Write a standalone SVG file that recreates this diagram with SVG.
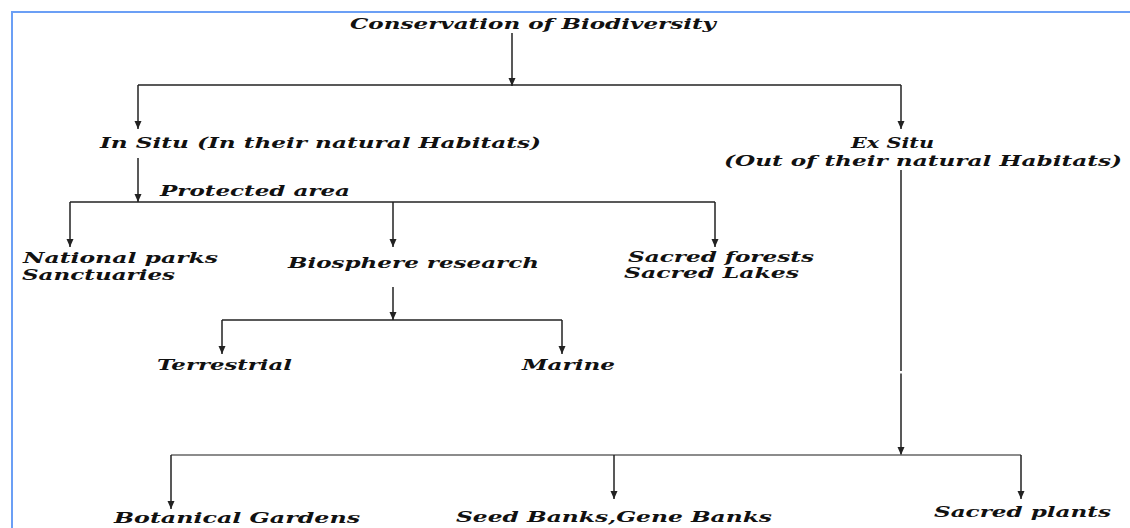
<svg xmlns="http://www.w3.org/2000/svg" width="1130" height="528" viewBox="0 0 1130 528">
<style>
text{font-family:"DejaVu Serif","Liberation Serif",serif;font-style:italic;font-weight:bold;font-size:15px;fill:#111;}
.c{fill:none;stroke:#222;stroke-width:1.5;}
.g{fill:none;stroke:#666;stroke-width:1.5;}
.a{marker-end:url(#ah);}
</style>
<defs>
<marker id="ah" markerUnits="userSpaceOnUse" markerWidth="9" markerHeight="8" refX="8" refY="3.5" orient="auto">
<path d="M0,0 L8,3.5 L0,7 z" fill="#222"/>
</marker>
</defs>
<rect width="1130" height="528" fill="#fff"/>
<path d="M12,528 V12 H1130" fill="none" stroke="#6b9ff5" stroke-width="2"/>
<g id="connectors">
<path class="c a" d="M512,33 V86"/>
<path class="c" d="M138,85 H901"/>
<path class="c a" d="M138,85 V129"/>
<path class="c a" d="M901,85 V129"/>
<path class="c a" d="M138,158 V202"/>
<path class="c" d="M70,202 H715"/>
<path class="c a" d="M70,202 V247"/>
<path class="c a" d="M393,202 V247"/>
<path class="c a" d="M715,202 V247"/>
<path class="c a" d="M393,287 V320"/>
<path class="c" d="M222,320 H562"/>
<path class="c a" d="M222,320 V354"/>
<path class="c a" d="M562,320 V354"/>
<path class="c" d="M901,170 V371"/>
<path class="c a" d="M901,373.5 V455"/>
<path class="g" d="M171,455 H1021"/>
<path class="c a" d="M171,455 V509"/>
<path class="c a" d="M614,455 V499"/>
<path class="c a" d="M1021,455 V499"/>
</g>
<g id="title"><text x="350" y="29" textLength="366" lengthAdjust="spacingAndGlyphs">Conservation of Biodiversity</text></g>
<g id="insitu"><text x="100" y="148" textLength="441" lengthAdjust="spacingAndGlyphs">In Situ (In their natural Habitats)</text></g>
<g id="exsitu"><text x="851" y="148" textLength="83" lengthAdjust="spacingAndGlyphs">Ex Situ</text><text x="724" y="166" textLength="398" lengthAdjust="spacingAndGlyphs">(Out of their natural Habitats)</text></g>
<g id="protected"><text x="160" y="196" textLength="190" lengthAdjust="spacingAndGlyphs">Protected area</text></g>
<g id="national"><text x="23" y="263" textLength="195" lengthAdjust="spacingAndGlyphs">National parks</text><text x="22" y="280" textLength="153" lengthAdjust="spacingAndGlyphs">Sanctuaries</text></g>
<g id="biosphere"><text x="288" y="268" textLength="251" lengthAdjust="spacingAndGlyphs">Biosphere research</text></g>
<g id="sacredforests"><text x="628" y="262" textLength="186" lengthAdjust="spacingAndGlyphs">Sacred forests</text><text x="624" y="278" textLength="175" lengthAdjust="spacingAndGlyphs">Sacred Lakes</text></g>
<g id="terrestrial"><text x="157" y="370" textLength="135" lengthAdjust="spacingAndGlyphs">Terrestrial</text></g>
<g id="marine"><text x="522" y="370" textLength="93" lengthAdjust="spacingAndGlyphs">Marine</text></g>
<g id="botanical"><text x="114" y="523" textLength="246" lengthAdjust="spacingAndGlyphs">Botanical Gardens</text></g>
<g id="seedbanks"><text x="456" y="522" textLength="316" lengthAdjust="spacingAndGlyphs">Seed Banks,Gene Banks</text></g>
<g id="sacredplants"><text x="934" y="517" textLength="177" lengthAdjust="spacingAndGlyphs">Sacred plants</text></g>
</svg>
